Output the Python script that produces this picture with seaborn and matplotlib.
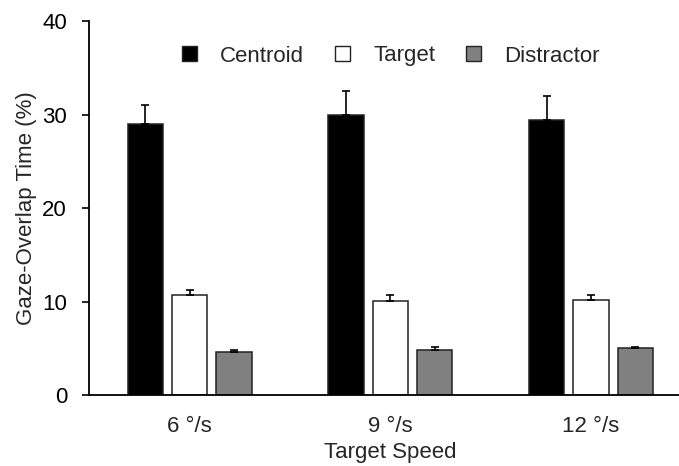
import matplotlib
matplotlib.use("Agg")
import pandas as pd
import matplotlib.pyplot as plt
import seaborn as sns
from matplotlib.patches import Patch

# data
speeds = ["6 °/s", "9 °/s", "12 °/s"]
series = ["Centroid", "Target", "Distractor"]
centroid = [29.0, 30.0, 29.5]
centroid_err = [2.1, 2.6, 2.5]
target = [10.7, 10.1, 10.2]
target_err = [0.5, 0.65, 0.55]
distractor = [4.6, 4.85, 5.0]
distractor_err = [0.25, 0.25, 0.12]
yticks = [0, 10, 20, 30, 40]

colors = {"Centroid": "black", "Target": "white", "Distractor": "#808080"}

df = pd.DataFrame({
    "Speed": speeds * 3,
    "Series": [s for s in series for _ in speeds],
    "Value": centroid + target + distractor,
})

sns.set_style("ticks")
plt.rcParams["font.family"] = ["Liberation Sans", "DejaVu Sans"]

fig = plt.figure(figsize=(6.79, 4.66), dpi=100)
ax = fig.add_axes([0.1315, 0.1524, 0.8867, 0.8015])

sns.barplot(data=df, x="Speed", y="Value", hue="Series", order=speeds,
            hue_order=series, palette=colors, width=0.663, gap=0.2,
            edgecolor="#222222", linewidth=1.1, errorbar=None,
            legend=False, ax=ax)

# one-sided error bars on top of each bar
for cont, vals, errs in zip(ax.containers, [centroid, target, distractor],
                            [centroid_err, target_err, distractor_err]):
    xs = [p.get_x() + p.get_width() / 2 for p in cont]
    ax.errorbar(xs, vals, yerr=[[0] * len(errs), errs], fmt="none",
                ecolor="black", elinewidth=1.2, capsize=3.0, capthick=1.2,
                zorder=1)

ax.set_xlim(-0.5, 2.5)
ax.set_ylim(0, 40)
ax.set_yticks(yticks)
ax.tick_params(axis="y", length=5, width=1.2, colors="black", labelsize=16, pad=11)
ax.tick_params(axis="x", length=0, labelsize=16, pad=15)
sns.despine(ax=ax)
for s in ["left", "bottom"]:
    ax.spines[s].set_linewidth(1.3)
    ax.spines[s].set_color("black")

ax.set_ylabel("Gaze-Overlap Time (%)", fontsize=16, labelpad=4)
ax.set_xlabel("Target Speed", fontsize=16, labelpad=4)

handles = [Patch(facecolor=colors[s], edgecolor="#222222", linewidth=1.0) for s in series]
ax.legend(handles, series, ncol=3, frameon=False, loc="center",
          bbox_to_anchor=(391 / 679, 1 - 56 / 466), bbox_transform=fig.transFigure,
          fontsize=16, handlelength=0.65, handleheight=0.65,
          handletextpad=1.05, columnspacing=1.4)

fig.savefig("out.png", dpi=100)
